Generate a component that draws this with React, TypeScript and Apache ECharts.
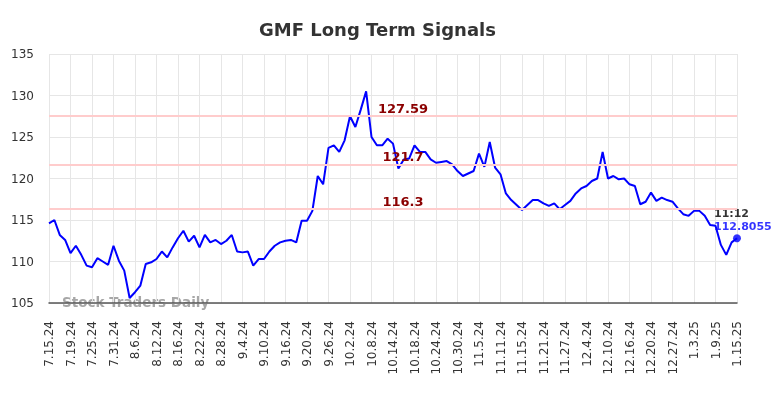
import React, { useEffect, useRef } from "react";
import * as echarts from "echarts";

const dates: string[] = [
  "7.15.24","7.16.24","7.17.24","7.18.24","7.19.24","7.22.24","7.23.24","7.24.24","7.25.24","7.26.24","7.29.24","7.30.24","7.31.24",
  "8.1.24","8.2.24","8.5.24","8.6.24","8.7.24","8.8.24","8.9.24","8.12.24","8.13.24","8.14.24","8.15.24","8.16.24","8.19.24","8.20.24","8.21.24","8.22.24","8.23.24","8.26.24","8.27.24","8.28.24","8.29.24","8.30.24",
  "9.3.24","9.4.24","9.5.24","9.6.24","9.9.24","9.10.24","9.11.24","9.12.24","9.13.24","9.16.24","9.17.24","9.18.24","9.19.24","9.20.24","9.23.24","9.24.24","9.25.24","9.26.24","9.27.24","9.30.24",
  "10.1.24","10.2.24","10.3.24","10.4.24","10.7.24","10.8.24","10.9.24","10.10.24","10.11.24","10.14.24","10.15.24","10.16.24","10.17.24","10.18.24","10.21.24","10.22.24","10.23.24","10.24.24","10.25.24","10.28.24","10.29.24","10.30.24","10.31.24",
  "11.1.24","11.4.24","11.5.24","11.6.24","11.7.24","11.8.24","11.11.24","11.12.24","11.13.24","11.14.24","11.15.24","11.18.24","11.19.24","11.20.24","11.21.24","11.22.24","11.25.24","11.26.24","11.27.24","11.29.24",
  "12.2.24","12.3.24","12.4.24","12.5.24","12.6.24","12.9.24","12.10.24","12.11.24","12.12.24","12.13.24","12.16.24","12.17.24","12.18.24","12.19.24","12.20.24","12.23.24","12.24.24","12.26.24","12.27.24","12.30.24","12.31.24",
  "1.2.25","1.3.25","1.6.25","1.7.25","1.8.25","1.9.25","1.10.25","1.13.25","1.14.25","1.15.25",
];

const prices: number[] = [
  114.6, 115.0, 113.2, 112.6, 111.0, 111.9, 110.8, 109.5, 109.3, 110.4,
  110.0, 109.6, 111.9, 110.1, 108.9, 105.6, 106.3, 107.1, 109.7, 109.9,
  110.3, 111.2, 110.5, 111.7, 112.8, 113.7, 112.4, 113.1, 111.7, 113.2,
  112.3, 112.6, 112.1, 112.5, 113.2, 111.2, 111.1, 111.2, 109.5, 110.3,
  110.3, 111.2, 111.9, 112.3, 112.5, 112.6, 112.3, 114.9, 114.9, 116.1,
  120.3, 119.3, 123.7, 124.0, 123.2, 124.6, 127.5, 126.2, 128.3, 130.5,
  125.0, 124.0, 124.0, 124.8, 124.2, 121.2, 122.3, 122.4, 124.0, 123.2,
  123.2, 122.3, 121.9, 122.0, 122.1, 121.7, 120.9, 120.3, 120.6, 120.9,
  123.0, 121.4, 124.4, 121.3, 120.5, 118.2, 117.4, 116.8, 116.2, 116.8,
  117.4, 117.4, 117.0, 116.7, 117.0, 116.3, 116.8, 117.3, 118.2, 118.8,
  119.1, 119.7, 120.0, 123.2, 120.0, 120.3, 119.9, 120.0, 119.3, 119.1,
  116.9, 117.2, 118.3, 117.3, 117.7, 117.4, 117.2, 116.4, 115.7, 115.5,
  116.1, 116.1, 115.5, 114.4, 114.3, 112.0, 110.8, 112.3, 112.8055,
];

const signalLevels: number[] = [127.59, 121.7, 116.3];
const lastTime = "11:12";
const titleText = "GMF Long Term Signals";
const watermark = "Stock Traders Daily";

export default function App() {
  const ref = useRef<HTMLDivElement>(null);
  useEffect(() => {
    if (!ref.current) return;
    const chart = echarts.init(ref.current, null, { renderer: "svg" });
    const lastIdx = prices.length - 1;
    const lastVal = prices[lastIdx];
    chart.setOption({
      animation: false,
      textStyle: { fontFamily: "DejaVu Sans" },
      title: {
        text: titleText,
        left: 254,
        top: 15,
        textStyle: { fontSize: 18, fontWeight: "bold", color: "#333", fontFamily: "DejaVu Sans" },
      },
      grid: { left: 49, right: 47, top: 54, bottom: 95, containLabel: false },
      xAxis: {
        type: "category",
        data: dates,
        boundaryGap: false,
        axisLine: { show: true, lineStyle: { color: "#555", width: 1.5 } },
        axisTick: { show: false },
        axisLabel: {
          interval: 3,
          rotate: 90,
          margin: 18,
          fontSize: 12,
          color: "#333",
          fontFamily: "DejaVu Sans",
        },
        splitLine: { show: true, interval: 3, lineStyle: { color: "#e6e6e6", width: 1 } },
      },
      yAxis: {
        type: "value",
        min: 105,
        max: 135,
        interval: 5,
        axisLine: { show: false },
        axisTick: { show: false },
        axisLabel: { fontSize: 12, color: "#333", margin: 15, fontFamily: "DejaVu Sans" },
        splitLine: { show: true, lineStyle: { color: "#e6e6e6", width: 1 } },
      },
      graphic: [
        {
          type: "text",
          left: 62,
          top: 295,
          silent: true,
          style: {
            text: watermark,
            fill: "rgba(130,130,130,0.7)",
            font: "bold 13.5px 'DejaVu Sans'",
          },
        },
      ],
      series: [
        {
          type: "line",
          data: prices,
          showSymbol: false,
          symbol: "none",
          lineStyle: { color: "#0000ff", width: 2 },
          itemStyle: { color: "#0000ff" },
          z: 3,
          markLine: {
            silent: true,
            symbol: ["none", "none"],
            lineStyle: { color: "#ffcccc", width: 2, type: "solid" },
            label: {
              show: true,
              position: "insideMiddleTop",
              distance: 1,
              padding: [0, 0, 0, 20],
              formatter: "{c}",
              color: "#8b0000",
              fontSize: 13,
              fontWeight: "bold",
              fontFamily: "DejaVu Sans",
            },
            emphasis: { disabled: true },
            data: signalLevels.map((v) => ({ yAxis: v })),
          },
        },
        {
          type: "scatter",
          data: [[lastIdx, lastVal]],
          symbol: "circle",
          symbolSize: 8,
          itemStyle: { color: "#0000ff" },
          z: 4,
          label: {
            show: true,
            position: "top",
            distance: 5,
            align: "left",
            offset: [-23, 4],
            formatter: () => `{a|${lastTime}}\n{b|${lastVal}}`,
            rich: {
              a: { color: "#000", fontSize: 11, fontWeight: "bold", lineHeight: 13, fontFamily: "DejaVu Sans" },
              b: { color: "#0000ff", fontSize: 11, fontWeight: "bold", lineHeight: 13, fontFamily: "DejaVu Sans" },
            },
          },
        },
      ],
    });
    return () => chart.dispose();
  }, []);
  return (
    <div
      ref={ref}
      style={{ position: "fixed", left: 0, top: 0, width: 784, height: 398 }}
    />
  );
}
